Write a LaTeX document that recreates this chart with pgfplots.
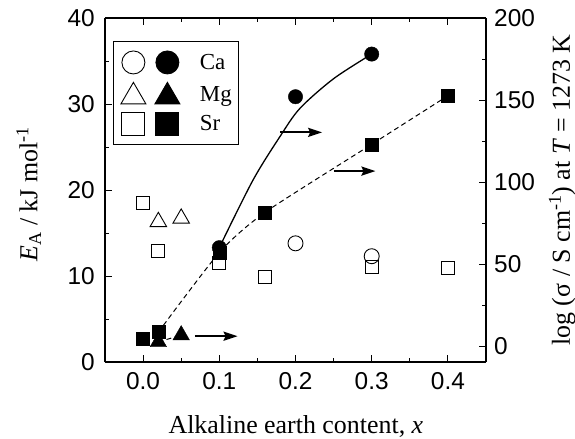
\documentclass[border=0pt]{standalone}
\usepackage{fontspec}
\setmainfont{Liberation Serif}
\setsansfont{Liberation Sans}
\usepackage{pgfplots}
\pgfplotsset{compat=1.18}
\usetikzlibrary{arrows.meta}

\pgfplotsset{
  common/.style={
    scale only axis, width=381bp, height=344bp,
    xmin=-0.05, xmax=0.45,
    /pgf/number format/assume math mode=true,
    tick style={black, line width=0.9bp},
    major tick length=7bp, minor tick length=4.5bp,
    axis line style={line width=1.1bp},
    ticklabel style={font=\sffamily\fontsize{24.5}{24.5}\selectfont, inner sep=0pt},
    label style={font=\fontsize{26}{28}\selectfont},
  }
}

\begin{document}
\begin{tikzpicture}
\useasboundingbox (-105bp,-77bp) rectangle (470bp,362bp);

% ---------- right axis: conductivity (filled symbols) ----------
\begin{axis}[common,
  ymin=-9.7, ymax=200,
  axis x line=none, axis y line*=right,
  ytick={0,50,100,150,200}, minor ytick={25,75,125,175},
  yticklabel style={xshift=8bp},
  ylabel={log (σ / S cm\textsuperscript{-1}) at \textit{T} = 1273 K},
  ylabel style={at={(axis description cs:1.2,0.5)}, anchor=center},
]
% Ca fit curve (solid)
\addplot[black, line width=1.3bp, smooth] coordinates {
  (0.1,60) (0.144,101) (0.18,128) (0.206,145) (0.25,163) (0.3,178)};
% Sr guide line (dashed)
\addplot[black, line width=1bp, dash pattern=on 5bp off 3.5bp, smooth, tension=0.4] coordinates {
  (0.02,8.5) (0.1,57) (0.16,81.5) (0.3,123) (0.4,152.6)};
% Mg guide line (dashed)
\addplot[black, line width=1bp, dash pattern=on 5bp off 3.5bp] coordinates {
  (0.02,2.5) (0.05,6.7)};
% Sr filled
\addplot[only marks, mark=square*, mark size=6.5bp, black] coordinates {
  (0.0,4.3) (0.02,8.5) (0.1,57) (0.16,81.5) (0.3,123) (0.4,152.6)};
% Mg filled
\addplot[only marks, mark=triangle*, mark size=9.5bp, black] coordinates {
  (0.02,2.5) (0.05,6.7)};
% Ca filled
\addplot[only marks, mark=*, mark size=7.2bp, black] coordinates {
  (0.1,60) (0.2,152) (0.3,178)};
\end{axis}

% ---------- left axis: activation energy (open symbols) ----------
\begin{axis}[common,
  ymin=0, ymax=40,
  axis y line*=left,
  xtick={0,0.1,0.2,0.3,0.4}, minor xtick={-0.05,0.05,0.15,0.25,0.35,0.45},
  ytick={0,10,20,30,40}, minor ytick={5,15,25,35},
  xticklabel style={yshift=-10bp, /pgf/number format/.cd, fixed, fixed zerofill, precision=1},
  yticklabel style={xshift=-10bp},
  xlabel={Alkaline earth content, \textit{x}},
  xlabel style={at={(axis description cs:0.501,0)}, yshift=-71bp, anchor=base},
  ylabel={\textit{E}\textsubscript{A} / kJ mol\textsuperscript{-1}},
  ylabel style={at={(axis description cs:-0.2,0.488)}, anchor=center},
  legend style={at={(axis description cs:0.021,0.933)}, anchor=north west,
    draw=black, line width=0.9bp, fill=white,
    font=\fontsize{23}{23}\selectfont,
    inner xsep=7bp, inner ysep=9bp, row sep=7.5bp,
    nodes={inner sep=0pt}},
  legend cell align=left,
]
\addlegendimage{legend image code/.code={
  \draw[black, line width=0.9bp, fill=white] (11.5bp,0bp) circle (11.5bp);
  \fill[black] (45.5bp,0bp) circle (11.5bp);
  \path[draw=none, fill=none] (0bp,0bp) -- (78bp,0bp);}}
\addlegendentry{Ca}
\addlegendimage{legend image code/.code={
  \draw[black, line width=0.9bp, fill=white, line join=miter] (-1bp,-9bp) -- (24bp,-9bp) -- (11.5bp,12.6bp) -- cycle;
  \fill[black] (33bp,-9bp) -- (58bp,-9bp) -- (45.5bp,12.6bp) -- cycle;
  \path[draw=none, fill=none] (0bp,0bp) -- (78bp,0bp);}}
\addlegendentry{Mg}
\addlegendimage{legend image code/.code={
  \draw[black, line width=0.9bp, fill=white] (0bp,-11.5bp) rectangle (23bp,11.5bp);
  \fill[black] (34bp,-11.5bp) rectangle (57bp,11.5bp);
  \path[draw=none, fill=none] (0bp,0bp) -- (78bp,0bp);}}
\addlegendentry{Sr}

% open symbols
\addplot[only marks, mark=square, mark size=6.5bp, mark options={fill=white, line width=0.9bp}, black, forget plot] coordinates {
  (0.0,18.5) (0.02,12.9) (0.1,11.5) (0.16,9.9) (0.3,11.0) (0.4,10.9)};
\addplot[only marks, mark=triangle, mark size=9.5bp, mark options={fill=white, line width=0.9bp}, black, forget plot] coordinates {
  (0.02,16.3) (0.05,16.7)};
\addplot[only marks, mark=o, mark size=7.5bp, mark options={fill=white, line width=0.9bp}, black, forget plot] coordinates {
  (0.2,13.8) (0.3,12.3)};

% arrows pointing to the right axis
\draw[line width=2.2bp, -{Stealth[length=14bp, width=9bp, inset=2bp]}] (axis cs:0.068,3.0) -- (axis cs:0.124,3.0);
\draw[line width=2.2bp, -{Stealth[length=14bp, width=9bp, inset=2bp]}] (axis cs:0.18,26.7) -- (axis cs:0.235,26.7);
\draw[line width=2.2bp, -{Stealth[length=14bp, width=9bp, inset=2bp]}] (axis cs:0.25,22.2) -- (axis cs:0.305,22.2);
\end{axis}
\end{tikzpicture}
\end{document}
